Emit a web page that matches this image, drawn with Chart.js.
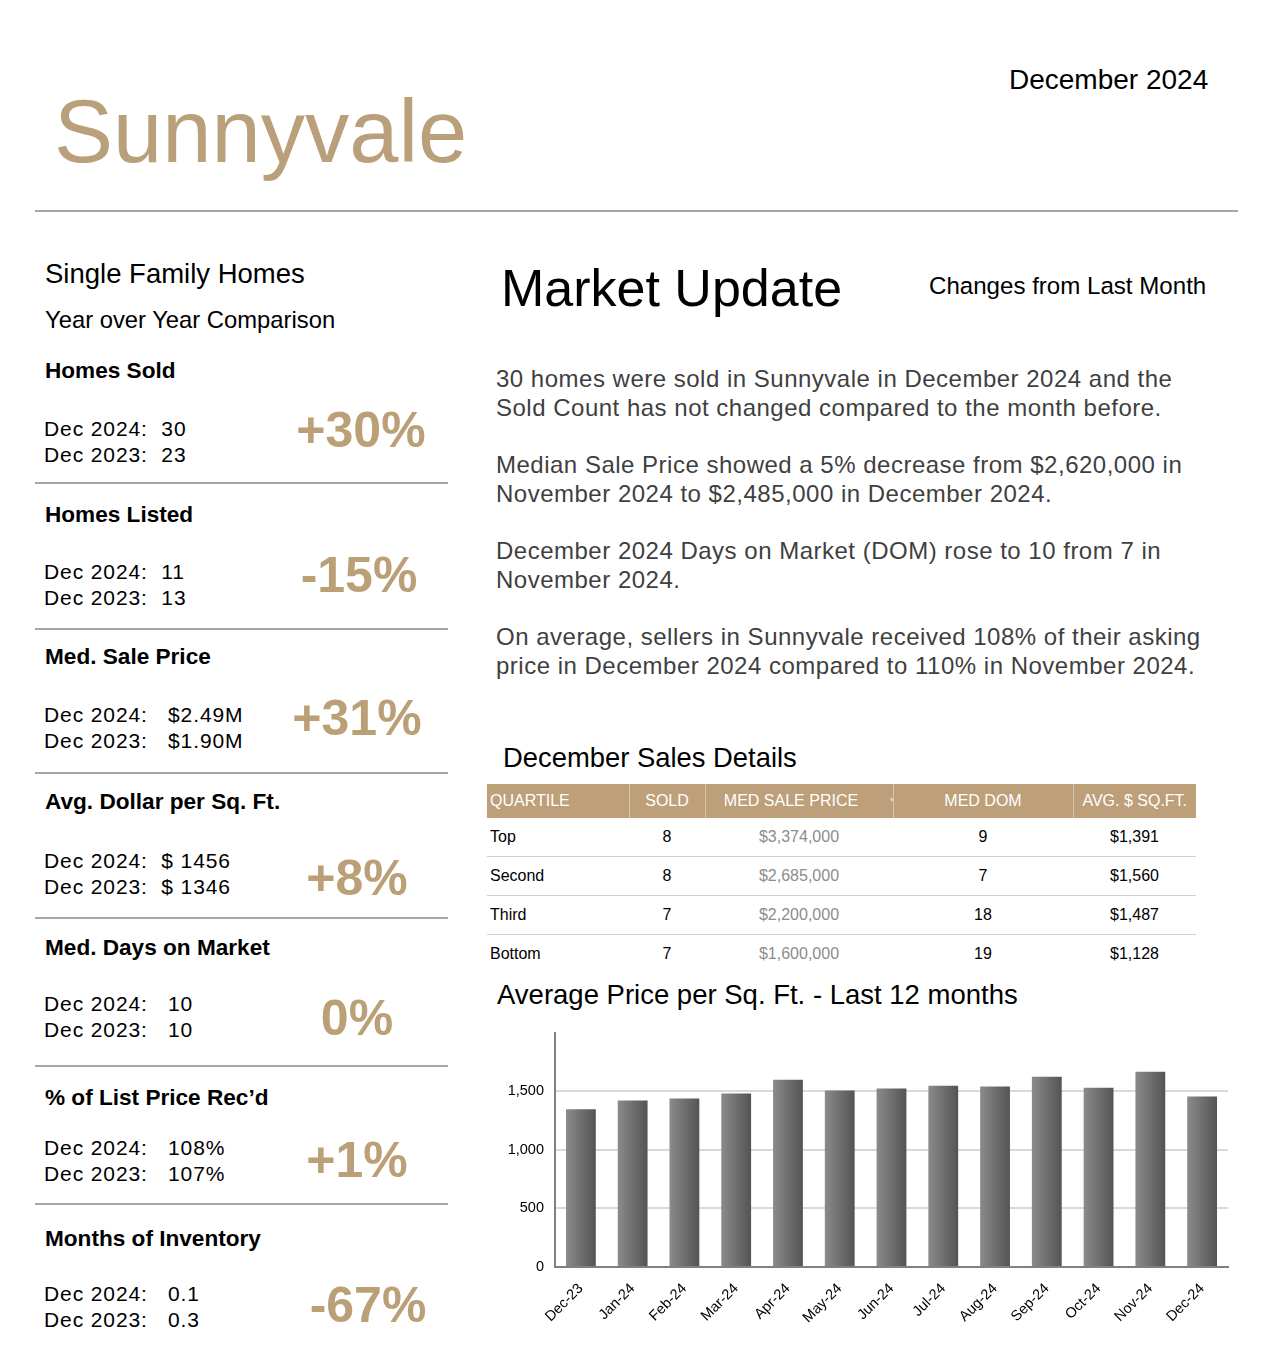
<!DOCTYPE html>
<html>
<head>
<meta charset="utf-8">
<script src="https://cdn.jsdelivr.net/npm/chart.js@4"></script>
<style>
  html, body { margin:0; padding:0; background:#fff; }
  body { width:1275px; height:1370px; position:relative; overflow:hidden; font-family:"Liberation Sans", Arial, sans-serif; color:#000; }
  .abs { position:absolute; white-space:nowrap; }
  .rule { position:absolute; background:#a6a6a6; height:2px; }
  .stitle { font-weight:bold; font-size:22.6px; line-height:24px; }
  .sval { font-size:21px; line-height:26px; letter-spacing:0.9px; }
  .pct { font-weight:bold; font-size:50px; line-height:52px; width:200px; text-align:center; color:#bba077; }
  .para { font-size:24px; line-height:28.5px; letter-spacing:0.5px; color:#3f3f3f; }
  table { border-collapse:collapse; font-size:16px; }
  th { background:#bd9f79; color:#fff; font-weight:normal; height:34px; padding:0; border-left:1px solid #d8c6ac; position:relative; }
  th:first-child { border-left:none; text-align:left; padding-left:3px; }
  td { height:38px; padding:0; text-align:center; border-bottom:1px solid #d0d0d0; }
  td:first-child { text-align:left; padding-left:3px; }
  tr:last-child td { border-bottom:none; }
  td.gray { color:#8c8c8c; }
</style>
</head>
<body>
<div class="abs" style="left:1009px; top:63px; font-size:28px; line-height:34px;">December 2024</div>
<div class="abs" style="left:54px; top:82px; font-size:88.5px; line-height:100px; color:#b9a07a;">Sunnyvale</div>
<div class="rule" style="left:35px; top:210px; width:1203px;"></div>

<div class="abs" style="left:45px; top:258px; font-size:27.5px; line-height:32px;">Single Family Homes</div>
<div class="abs" style="left:45px; top:306px; font-size:23.8px; line-height:28px;">Year over Year Comparison</div>

<div id="stats"></div>

<div class="abs" style="left:501px; top:257px; font-size:52px; line-height:62px;">Market Update</div>
<div class="abs" style="left:929px; top:271px; font-size:24.1px; line-height:30px;">Changes from Last Month</div>

<div class="abs para" style="left:496px; top:365px;">30 homes were sold in Sunnyvale in December 2024 and the<br>Sold Count has not changed compared to the month before.</div>
<div class="abs para" style="left:496px; top:451px;">Median Sale Price showed a 5% decrease from $2,620,000 in<br>November 2024 to $2,485,000 in December 2024.</div>
<div class="abs para" style="left:496px; top:537px;">December 2024 Days on Market (DOM) rose to 10 from 7 in<br>November 2024.</div>
<div class="abs para" style="left:496px; top:623px;">On average, sellers in Sunnyvale received 108% of their asking<br>price in December 2024 compared to 110% in November 2024.</div>

<div class="abs" style="left:503px; top:741px; font-size:27.4px; line-height:34px;">December Sales Details</div>
<div class="abs" style="left:487px; top:784px; width:709px;">
  <table id="tbl" style="width:709px;">
    <colgroup><col style="width:142px"><col style="width:76px"><col style="width:188px"><col style="width:180px"><col style="width:123px"></colgroup>
    <thead><tr id="thead"></tr></thead>
    <tbody id="tbody"></tbody>
  </table>
</div>

<div class="abs" style="left:497px; top:978px; font-size:27.5px; line-height:34px;">Average Price per Sq. Ft. - Last 12 months</div>
<div class="abs" style="left:490px; top:1013px; width:750px; height:320px;">
  <canvas id="c" width="750" height="320"></canvas>
</div>

<script>
// ---- chart data ----
const months = ["Dec-23","Jan-24","Feb-24","Mar-24","Apr-24","May-24","Jun-24","Jul-24","Aug-24","Sep-24","Oct-24","Nov-24","Dec-24"];
const avgPricePerSqFt = [1346,1421,1438,1480,1599,1506,1523,1548,1540,1624,1531,1667,1456];
const yTicks = [0,500,1000,1500];

// ---- left column stats ----
const statTitles = ["Homes Sold","Homes Listed","Med. Sale Price","Avg. Dollar per Sq. Ft.","Med. Days on Market","% of List Price Rec\u2019d","Months of Inventory"];
const stat2024 = ["Dec 2024:\u00a0\u00a030","Dec 2024:\u00a0\u00a011","Dec 2024:\u00a0\u00a0\u00a0$2.49M","Dec 2024:\u00a0\u00a0$ 1456","Dec 2024:\u00a0\u00a0\u00a010","Dec 2024:\u00a0\u00a0\u00a0108%","Dec 2024:\u00a0\u00a0\u00a00.1"];
const stat2023 = ["Dec 2023:\u00a0\u00a023","Dec 2023:\u00a0\u00a013","Dec 2023:\u00a0\u00a0\u00a0$1.90M","Dec 2023:\u00a0\u00a0$ 1346","Dec 2023:\u00a0\u00a0\u00a010","Dec 2023:\u00a0\u00a0\u00a0107%","Dec 2023:\u00a0\u00a0\u00a00.3"];
const statPct = ["+30%","-15%","+31%","+8%","0%","+1%","-67%"];

// ---- table ----
const tblHead = ["QUARTILE","SOLD","MED SALE PRICE","MED DOM","AVG. $ SQ.FT."];
const quartiles = ["Top","Second","Third","Bottom"];
const qSold = [8,8,7,7];
const qMedPrice = ["$3,374,000","$2,685,000","$2,200,000","$1,600,000"];
const qMedDom = [9,7,18,19];
const qAvgSqft = ["$1,391","$1,560","$1,487","$1,128"];

// layout positions for stat blocks
const statTitleY = [371,515,657,802,948,1098,1239];
const statValY = [429,572,715,861,1004,1148,1294];
const statPctY = [430,575,718,878,1018,1160,1305];
const statPctX = [361,359,357,357,357,357,368];
const sepY = [483,629,773,918,1066,1204];

let html = "";
for (let i = 0; i < statTitles.length; i++) {
  html += `<div class="abs stitle" style="left:45px;top:${statTitleY[i]-12}px">${statTitles[i]}</div>`;
  html += `<div class="abs sval" style="left:44px;top:${statValY[i]-13}px">${stat2024[i]}</div>`;
  html += `<div class="abs sval" style="left:44px;top:${statValY[i]+13}px">${stat2023[i]}</div>`;
  html += `<div class="abs pct" style="left:${statPctX[i]-100}px;top:${statPctY[i]-26}px">${statPct[i]}</div>`;
  if (i < sepY.length) html += `<div class="rule" style="left:35px;top:${sepY[i]-1}px;width:413px"></div>`;
}
document.getElementById("stats").innerHTML = html;

const thead = document.getElementById("thead");
tblHead.forEach((h, i) => {
  const th = document.createElement("th");
  th.textContent = h;
  if (i === 2) {
    th.innerHTML = '<span style="position:relative;left:-8px">' + h + '</span><span style="position:absolute;right:-1px;top:12px;font-size:7px;color:#e8dccb;">&#9662;</span>';
  }
  thead.appendChild(th);
});
const tbody = document.getElementById("tbody");
quartiles.forEach((q, i) => {
  const tr = document.createElement("tr");
  tr.innerHTML = `<td>${q}</td><td>${qSold[i]}</td><td class="gray">${qMedPrice[i]}</td><td>${qMedDom[i]}</td><td>${qAvgSqft[i]}</td>`;
  tbody.appendChild(tr);
});

// ---- chart ----
const CAT_PCT = 0.9, BAR_PCT = 0.64;
function barGradient(ctx) {
  const chart = ctx.chart;
  const xs = chart.scales.x;
  if (!chart.chartArea || !xs || ctx.dataIndex === undefined) return "#6e6e6e";
  const cx = xs.getPixelForValue(ctx.dataIndex);
  const w = (chart.chartArea.width / months.length) * CAT_PCT * BAR_PCT;
  const g = chart.ctx.createLinearGradient(cx - w / 2, 0, cx + w / 2, 0);
  g.addColorStop(0, "#8b8b8b");
  g.addColorStop(0.5, "#6f6f6f");
  g.addColorStop(1, "#545454");
  return g;
}

new Chart(document.getElementById("c"), {
  type: "bar",
  data: {
    labels: months,
    datasets: [{
      data: avgPricePerSqFt,
      backgroundColor: barGradient,
      borderWidth: 0,
      categoryPercentage: CAT_PCT,
      barPercentage: BAR_PCT
    }]
  },
  options: {
    responsive: false,
    animation: false,
    devicePixelRatio: 1,
    layout: { padding: { left: 0, top: 4, right: 12, bottom: 0 } },
    plugins: { legend: { display: false }, tooltip: { enabled: false } },
    scales: {
      x: {
        grid: { display: false, drawTicks: false },
        border: { color: "#808080", width: 2 },
        ticks: {
          color: "#000",
          font: { family: "Liberation Sans", size: 14.5 },
          maxRotation: 45, minRotation: 45,
          padding: 13,
          autoSkip: false
        },
        afterFit: (s) => { s.height = 66; }
      },
      y: {
        min: 0, max: 2000,
        afterBuildTicks: (s) => { s.ticks = yTicks.concat([2000]).map(v => ({ value: v })); },
        grid: {
          color: (c) => (c.tick && (c.tick.value === 2000 || c.tick.value === 0)) ? "rgba(0,0,0,0)" : "#d9d9d9",
          lineWidth: 2,
          drawTicks: false
        },
        border: { color: "#808080", width: 2 },
        ticks: {
          color: "#000",
          font: { family: "Liberation Sans", size: 14.5 },
          padding: 11,
          callback: (v) => v === 2000 ? "" : v.toLocaleString("en-US")
        },
        afterFit: (s) => { s.width = 65; }
      }
    }
  }
});
</script>
</body>
</html>
